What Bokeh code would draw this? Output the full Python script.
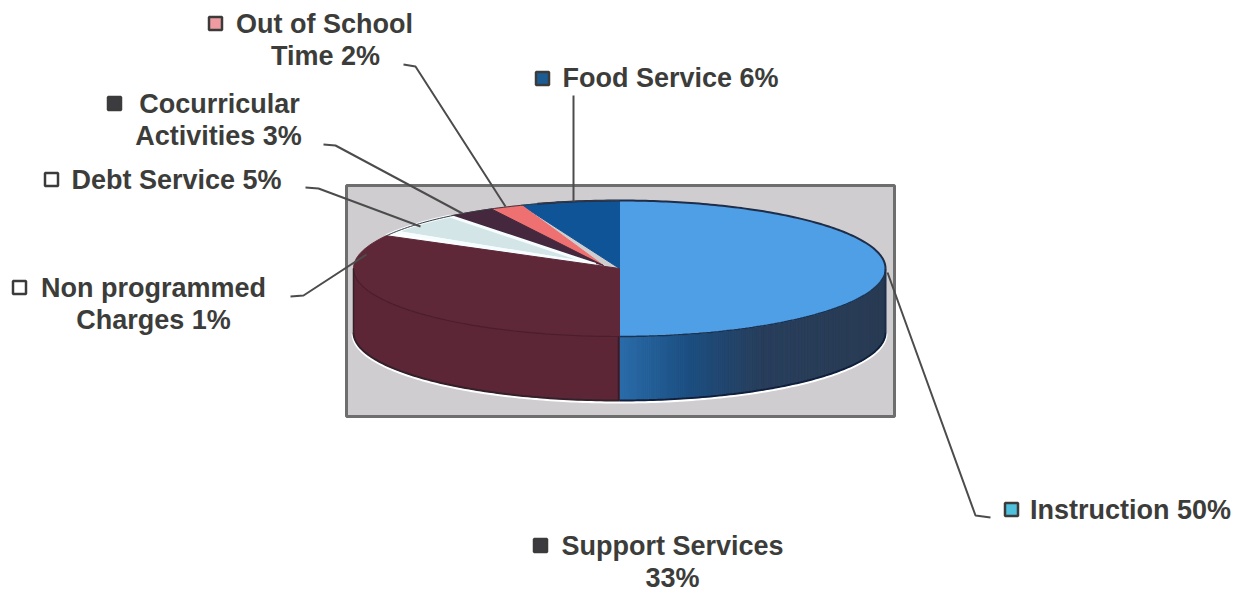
import numpy as np
from bokeh.core.properties import value
from bokeh.embed import file_html
from bokeh.models import Range1d
from bokeh.plotting import figure
from bokeh.resources import INLINE

# Budget shares, clockwise from twelve o'clock
categories = ["Instruction", "Support Services", "Non programmed Charges", "Debt Service",
              "Cocurricular Activities", "Out of School Time", "Food Service"]
shares = [50, 33, 1, 5, 3, 2, 6]
top_colors = ["#4f9fe6", "#5f2838", "#ffffff", "#d4e5e8", "#46283e", "#ee7070", "#0f5496"]

# Slice geometry of the tilted disc, in page pixels
CX, CY, RX, RY, DEPTH = 619, 268, 266, 68, 64
# Narrow slices converge slightly left of the disc's centre
TIP_SHIFT = {"Non programmed Charges": (-24, -4), "Debt Service": (-24, -4),
             "Cocurricular Activities": (-16, -3), "Out of School Time": (-16, -3)}

# Label text lines with their centre x and middle y
percent = dict(zip(categories, shares))
labels = [
    ("Out of School", 324, 23), (f"Time {percent['Out of School Time']}%", 325, 55),
    ("Cocurricular", 219, 103), (f"Activities {percent['Cocurricular Activities']}%", 218, 135),
    (f"Debt Service {percent['Debt Service']}%", 176, 179),
    ("Non programmed", 153, 287), (f"Charges {percent['Non programmed Charges']}%", 153, 319),
    (f"Food Service {percent['Food Service']}%", 670, 77),
    (f"Instruction {percent['Instruction']}%", 1130, 509),
    ("Support Services", 672, 545), (f"{percent['Support Services']}%", 672, 577),
]
# Legend keys: centre x, centre y, fill
keys = [(215, 23, "#f09aa2"), (542, 78, "#1c5c94"), (114, 103, "#3b3b40"), (51, 179, "#ffffff"),
        (19, 287, "#ffffff"), (1011, 509, "#4fc0de"), (540, 545, "#3b3b40")]
# Leader lines from each label to its slice
leaders = [
    ([403, 415, 505], [64, 66, 206]),
    ([573, 573], [95, 201]),
    ([323, 335, 462], [144, 145, 213]),
    ([305, 318, 420], [187, 188, 226]),
    ([290, 303, 366], [296, 295, 254]),
    ([887, 975, 990], [272, 515, 517]),
]


def rim(t):
    """Point on the top ellipse for a clockwise angle from twelve o'clock."""
    return CX + RX * np.sin(t), CY - RY * np.cos(t)


p = figure(width=1248, height=593, x_range=Range1d(0, 1248), y_range=Range1d(593, 0),
           output_backend="svg", toolbar_location=None, min_border=0,
           background_fill_color="#ffffff", border_fill_color="#ffffff", outline_line_color=None)
p.axis.visible = False
p.grid.visible = False

# Plot-area panel behind the disc
p.quad(left=346, right=894, top=185, bottom=416, fill_color="#cfcdd0", line_color="#6e6e6e", line_width=3)

edges = np.cumsum([0] + shares) / sum(shares) * 2 * np.pi

# White halo along the lower edge of the disc
t_front = np.linspace(np.pi / 2, 3 * np.pi / 2, 200)
xf, yf = rim(t_front)
p.line(xf, yf + DEPTH + 1, line_color="#ffffff", line_width=4)

# Front wall, Instruction side: shaded in thin strips from blue to slate
stops_x = [CX, 690, 760, CX + RX]
stops_rgb = np.array([[42, 108, 170], [28, 78, 128], [40, 62, 92], [42, 60, 84]])
wall_x, wall_y, wall_c = [], [], []
t_wall = np.linspace(np.pi / 2, np.pi, 200)
for a, b in zip(t_wall[:-1], t_wall[1:]):
    xa, ya = rim(a)
    xb, yb = rim(b)
    mid = (xa + xb) / 2
    rgb = [int(np.interp(mid, stops_x, stops_rgb[:, i])) for i in range(3)]
    wall_x.append([xa, xb, xb, xa])
    wall_y.append([ya, yb, yb + DEPTH, ya + DEPTH])
    wall_c.append("#%02x%02x%02x" % tuple(rgb))
p.patches(wall_x, wall_y, fill_color=wall_c, line_color=wall_c, line_width=1)

# Front wall, Support Services side
t_left = np.linspace(np.pi, 3 * np.pi / 2, 90)
xl, yl = rim(t_left)
p.patch(np.r_[xl, xl[::-1]], np.r_[yl, yl[::-1] + DEPTH], fill_color="#5c2636", line_color="#5c2636")

# Top face slices; Support Services goes last so it overlaps the narrow tips
order = [0, 6, 5, 4, 3, 2, 1]
for i in order:
    name = categories[i]
    t = np.linspace(edges[i], edges[i + 1], 120)
    x, y = rim(t)
    dx, dy = TIP_SHIFT.get(name, (0, 0))
    white_edge = name in ("Debt Service", "Non programmed Charges")
    p.patch(np.r_[CX + dx, x], np.r_[CY + dy, y], fill_color=top_colors[i],
            line_color="#f6fdff" if white_edge else top_colors[i],
            line_width=3 if white_edge else 1)

# Rim outlines
t_back = np.linspace(-0.1 * np.pi, np.pi / 2, 120)
xb, yb = rim(t_back)
p.line(xb, yb, line_color="#1f2d48", line_width=2)
t_inst = np.linspace(np.pi / 2, np.pi, 100)
xi, yi = rim(t_inst)
p.line(xi, yi, line_color="#1c3350", line_width=1.5)
p.line(xi, yi + DEPTH, line_color="#10203c", line_width=2)
p.line(xl, yl, line_color="#4a1e2c", line_width=1.2)
p.line(xl, yl + DEPTH, line_color="#33202a", line_width=2)
p.line([CX + RX, CX + RX], [CY, CY + DEPTH], line_color="#1f2d48", line_width=2)
p.line([CX - RX, CX - RX], [CY, CY + DEPTH], line_color="#33202a", line_width=1.5)
p.line([CX - 1, CX - 1], [CY + RY, CY + RY + DEPTH], line_color="#2a2030", line_width=1.5)
x_top, y_top = rim(np.linspace(edges[2], 2 * np.pi, 60))
p.line(x_top, y_top, line_color="#3a3a42", line_width=1)

# Leader lines
for lx, ly in leaders:
    p.line(lx, ly, line_color="#4c4c4c", line_width=2)

# Legend keys
p.scatter([k[0] for k in keys], [k[1] for k in keys], marker="square", size=13,
          fill_color=[k[2] for k in keys], line_color="#3b3c3a", line_width=2.5)

# Labels
p.text([l[1] for l in labels], [l[2] for l in labels], text=[l[0] for l in labels],
       text_font=value("Liberation Sans"), text_font_style="bold", text_font_size="27px",
       text_color="#3c3d3a", text_align="center", text_baseline="middle")

open("out.html", "w").write(file_html(p, INLINE))
